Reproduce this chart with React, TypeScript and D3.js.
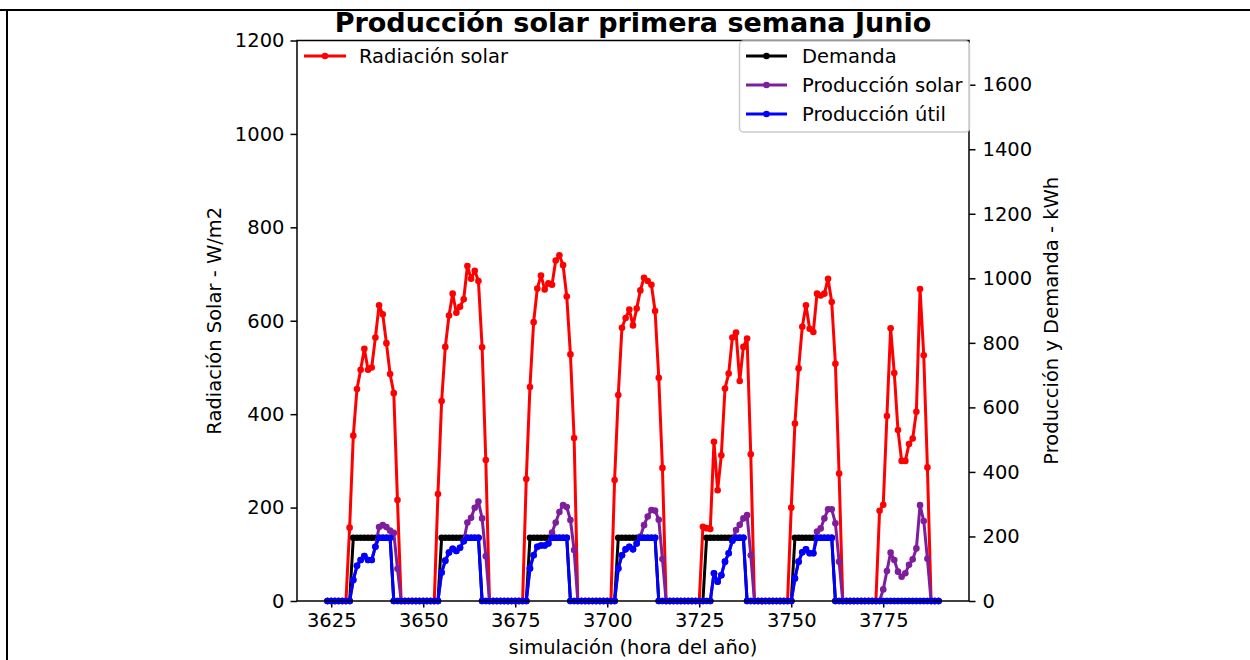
import { useEffect, useRef } from 'react';
import * as d3 from 'd3';

// hourly data, first point = hour 3624, one row per day
const startHour = 3624;

const radiacion: number[] = [
    0, 0, 0, 0, 0, 0, 157, 354, 454, 495, 540, 495, 500, 564, 633, 614, 552, 486, 445, 216, 0, 0, 0, 0,
    0, 0, 0, 0, 0, 0, 229, 428, 544, 611, 658, 617, 630, 646, 717, 690, 707, 685, 543, 302, 0, 0, 0, 0,
    0, 0, 0, 0, 0, 0, 261, 458, 597, 669, 697, 667, 680, 677, 729, 740, 719, 652, 528, 349, 0, 0, 0, 0,
    0, 0, 0, 0, 0, 0, 259, 441, 585, 606, 624, 590, 626, 665, 692, 685, 677, 621, 478, 285, 0, 0, 0, 0,
    0, 0, 0, 0, 0, 0, 159, 156, 154, 341, 237, 312, 455, 487, 564, 575, 471, 544, 562, 314, 0, 0, 0, 0,
    0, 0, 0, 0, 0, 0, 200, 380, 498, 587, 633, 583, 576, 658, 654, 658, 690, 640, 508, 273, 0, 0, 0, 0,
    0, 0, 0, 0, 0, 0, 193, 206, 396, 584, 488, 366, 300, 300, 336, 348, 405, 668, 526, 286, 0, 0, 0,
];

const demanda: number[] = [
    0, 0, 0, 0, 0, 0, 0, 196, 196, 196, 196, 196, 196, 196, 196, 196, 196, 196, 0, 0, 0, 0, 0, 0,
    0, 0, 0, 0, 0, 0, 0, 196, 196, 196, 196, 196, 196, 196, 196, 196, 196, 196, 0, 0, 0, 0, 0, 0,
    0, 0, 0, 0, 0, 0, 0, 196, 196, 196, 196, 196, 196, 196, 196, 196, 196, 196, 0, 0, 0, 0, 0, 0,
    0, 0, 0, 0, 0, 0, 0, 196, 196, 196, 196, 196, 196, 196, 196, 196, 196, 196, 0, 0, 0, 0, 0, 0,
    0, 0, 0, 0, 0, 0, 0, 196, 196, 196, 196, 196, 196, 196, 196, 196, 196, 196, 0, 0, 0, 0, 0, 0,
    0, 0, 0, 0, 0, 0, 0, 196, 196, 196, 196, 196, 196, 196, 196, 196, 196, 196, 0, 0, 0, 0, 0, 0,
    0, 0, 0, 0, 0, 0, 0, 0, 0, 0, 0, 0, 0, 0, 0, 0, 0, 0, 0, 0, 0, 0, 0,
];

const produccionSolar: number[] = [
    0, 0, 0, 0, 0, 0, 0, 65, 109, 127, 139, 127, 127, 168, 229, 235, 229, 218, 211, 100, 0, 0, 0, 0,
    0, 0, 0, 0, 0, 0, 0, 88, 125, 150, 162, 155, 165, 185, 243, 258, 289, 308, 256, 139, 0, 0, 0, 0,
    0, 0, 0, 0, 0, 0, 0, 101, 142, 168, 172, 172, 178, 212, 243, 276, 297, 291, 251, 158, 0, 0, 0, 0,
    0, 0, 0, 0, 0, 0, 0, 101, 142, 160, 168, 160, 178, 200, 235, 262, 282, 280, 252, 130, 0, 0, 0, 0,
    0, 0, 0, 0, 0, 0, 0, 0, 0, 86, 60, 80, 122, 148, 187, 220, 236, 256, 266, 142, 0, 0, 0, 0,
    0, 0, 0, 0, 0, 0, 0, 70, 122, 151, 160, 148, 148, 215, 225, 256, 284, 284, 241, 122, 0, 0, 0, 0,
    0, 0, 0, 0, 0, 0, 0, 36, 93, 150, 127, 91, 75, 86, 112, 129, 163, 297, 248, 131, 0, 0, 0,
];

const produccionUtil: number[] = [
    0, 0, 0, 0, 0, 0, 0, 65, 109, 127, 139, 127, 127, 168, 196, 196, 196, 196, 0, 0, 0, 0, 0, 0,
    0, 0, 0, 0, 0, 0, 0, 88, 125, 150, 162, 155, 165, 185, 196, 196, 196, 196, 0, 0, 0, 0, 0, 0,
    0, 0, 0, 0, 0, 0, 0, 101, 142, 168, 172, 172, 178, 196, 196, 196, 196, 196, 0, 0, 0, 0, 0, 0,
    0, 0, 0, 0, 0, 0, 0, 101, 142, 160, 168, 160, 178, 196, 196, 196, 196, 196, 0, 0, 0, 0, 0, 0,
    0, 0, 0, 0, 0, 0, 0, 0, 0, 86, 60, 80, 122, 148, 187, 196, 196, 196, 0, 0, 0, 0, 0, 0,
    0, 0, 0, 0, 0, 0, 0, 70, 122, 151, 160, 148, 148, 196, 196, 196, 196, 196, 0, 0, 0, 0, 0, 0,
    0, 0, 0, 0, 0, 0, 0, 0, 0, 0, 0, 0, 0, 0, 0, 0, 0, 0, 0, 0, 0, 0, 0,
];

const xTicks = [3625, 3650, 3675, 3700, 3725, 3750, 3775];
const yLeftTicks = [0, 200, 400, 600, 800, 1000, 1200];
const yRightTicks = [0, 200, 400, 600, 800, 1000, 1200, 1400, 1600];

const FONT = 'DejaVu Sans, sans-serif';
const FS = '19.5px';

export default function App() {
    const svgRef = useRef<SVGSVGElement>(null);

    useEffect(() => {
        if (!svgRef.current) return;
        const svg = d3.select(svgRef.current);
        svg.selectAll('*').remove();

        const left = 297;
        const right = 969;
        const top = 40.5;
        const bottom = 601;

        const x = d3.scaleLinear().domain([3615.7, 3798.3]).range([left, right]);
        const yL = d3.scaleLinear().domain([0, 1200]).range([bottom, top]);
        const yR = d3.scaleLinear().domain([0, 1737]).range([bottom, top]);

        // outer frame of the screenshot
        svg.append('line').attr('x1', 0).attr('x2', 1250).attr('y1', 10).attr('y2', 10)
            .attr('stroke', '#000').attr('stroke-width', 2);
        svg.append('line').attr('x1', 7).attr('x2', 7).attr('y1', 10).attr('y2', 660)
            .attr('stroke', '#000').attr('stroke-width', 2);

        const style = (g: d3.Selection<SVGGElement, unknown, null, undefined>) => {
            g.select('.domain').remove();
            g.selectAll('.tick line').attr('stroke', '#000').attr('stroke-width', 1.5);
            g.selectAll('.tick text')
                .attr('fill', '#000')
                .attr('font-family', FONT)
                .attr('font-size', FS);
        };

        // axes
        svg.append('g')
            .attr('transform', `translate(0,${bottom})`)
            .call(d3.axisBottom(x).tickValues(xTicks).tickSize(6.5).tickPadding(6).tickFormat(d3.format('d')))
            .call(style);
        svg.append('g')
            .attr('transform', `translate(${left},0)`)
            .call(d3.axisLeft(yL).tickValues(yLeftTicks).tickSize(6.5).tickPadding(6).tickFormat(d3.format('d')))
            .call(style);
        svg.append('g')
            .attr('transform', `translate(${right},0)`)
            .call(d3.axisRight(yR).tickValues(yRightTicks).tickSize(6.5).tickPadding(7).tickFormat(d3.format('d')))
            .call(style);

        const hours = radiacion.map((_, i) => startHour + i);

        const drawSeries = (
            values: number[],
            y: d3.ScaleLinear<number, number>,
            color: string
        ) => {
            const pts = values.map((v, i) => [x(hours[i]), y(v)] as [number, number]);
            const g = svg.append('g');
            g.append('path')
                .attr('d', d3.line()(pts))
                .attr('fill', 'none')
                .attr('stroke', color)
                .attr('stroke-width', 3)
                .attr('stroke-linejoin', 'round')
                .attr('stroke-linecap', 'butt');
            g.selectAll('circle')
                .data(pts)
                .enter()
                .append('circle')
                .attr('cx', (d) => d[0])
                .attr('cy', (d) => d[1])
                .attr('r', 3.3)
                .attr('fill', color);
        };

        drawSeries(radiacion, yL, '#ff0000');

        // left legend
        const legL = svg.append('g');
        legL.append('line').attr('x1', 304).attr('x2', 346).attr('y1', 56).attr('y2', 56)
            .attr('stroke', '#ff0000').attr('stroke-width', 3);
        legL.append('circle').attr('cx', 325).attr('cy', 56).attr('r', 3.3).attr('fill', '#ff0000');
        legL.append('text').attr('x', 359).attr('y', 63).text('Radiación solar')
            .attr('font-family', FONT).attr('font-size', FS);

        drawSeries(demanda, yR, '#000000');
        drawSeries(produccionSolar, yR, '#7e1e9c');
        drawSeries(produccionUtil, yR, '#0000ff');

        // spines
        svg.append('rect')
            .attr('x', left).attr('y', top)
            .attr('width', right - left).attr('height', bottom - top)
            .attr('fill', 'none').attr('stroke', '#000').attr('stroke-width', 1.5);

        // right legend
        const legR = svg.append('g');
        legR.append('rect')
            .attr('x', 739.5).attr('y', 41).attr('width', 230).attr('height', 91)
            .attr('rx', 4)
            .attr('fill', '#fff').attr('fill-opacity', 0.8)
            .attr('stroke', '#cccccc').attr('stroke-width', 1.5);
        const entries = [
            { label: 'Demanda', color: '#000000' },
            { label: 'Producción solar', color: '#7e1e9c' },
            { label: 'Producción útil', color: '#0000ff' },
        ];
        entries.forEach((e, i) => {
            const yy = 56 + i * 29;
            legR.append('line').attr('x1', 746).attr('x2', 787).attr('y1', yy).attr('y2', yy)
                .attr('stroke', e.color).attr('stroke-width', 3);
            legR.append('circle').attr('cx', 766.5).attr('cy', yy).attr('r', 3.3).attr('fill', e.color);
            legR.append('text').attr('x', 802).attr('y', yy + 7).text(e.label)
                .attr('font-family', FONT).attr('font-size', FS);
        });

        // labels
        svg.append('text')
            .attr('x', (left + right) / 2).attr('y', 32)
            .attr('text-anchor', 'middle')
            .attr('font-family', FONT).attr('font-size', '27px').attr('font-weight', 'bold')
            .text('Producción solar primera semana Junio');
        svg.append('text')
            .attr('x', (left + right) / 2).attr('y', 654)
            .attr('text-anchor', 'middle')
            .attr('font-family', FONT).attr('font-size', FS)
            .text('simulación (hora del año)');
        svg.append('text')
            .attr('transform', `translate(221,${(top + bottom) / 2}) rotate(-90)`)
            .attr('text-anchor', 'middle')
            .attr('font-family', FONT).attr('font-size', FS)
            .text('Radiación Solar - W/m2');
        svg.append('text')
            .attr('transform', `translate(1058,${(top + bottom) / 2}) rotate(-90)`)
            .attr('text-anchor', 'middle')
            .attr('font-family', FONT).attr('font-size', FS)
            .text('Producción y Demanda - kWh');
    }, []);

    return (
        <svg
            ref={svgRef}
            width={1250}
            height={660}
            style={{ position: 'absolute', left: 0, top: 0, background: '#fff' }}
        />
    );
}
